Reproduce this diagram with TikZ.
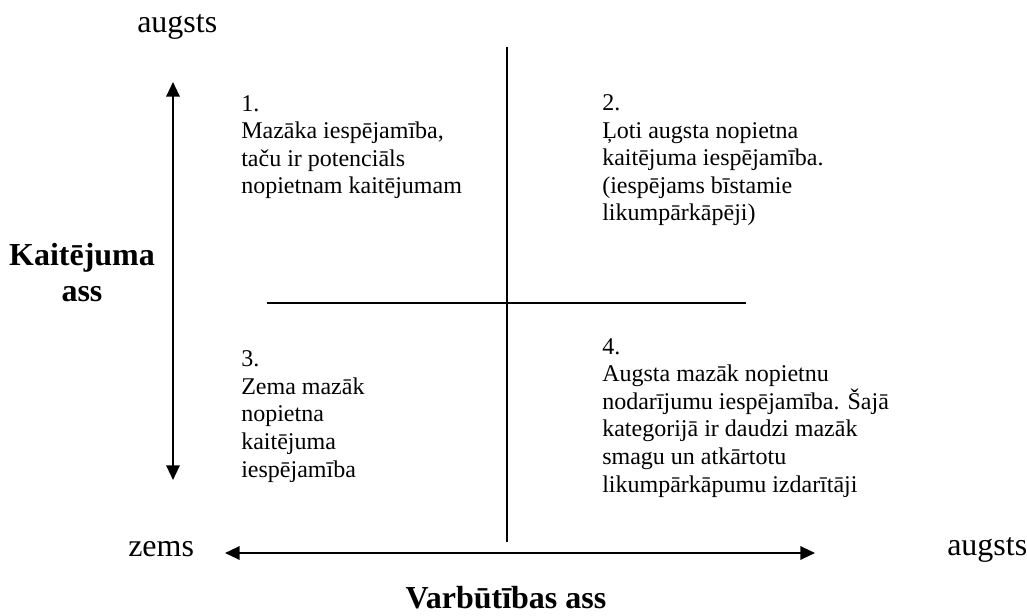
\documentclass[tikz,border=0pt]{standalone}
\usepackage{fontspec}
\setmainfont{Liberation Serif}
\usetikzlibrary{arrows.meta,positioning}
\newcommand{\quadfont}{\fontsize{18}{20.7}\selectfont}

\begin{document}
\begin{tikzpicture}[x=0.75pt,y=-0.75pt,inner sep=0pt,
    axis/.style={line width=1.6pt,{Triangle[length=11pt,width=10pt]}-{Triangle[length=11pt,width=10pt]}},
    split/.style={line width=1pt},
    quad/.style={anchor=base west,align=left,font=\quadfont},
    endlabel/.style={anchor=base west,font=\fontsize{24}{27.6}\selectfont},
    axlabel/.style={anchor=base,align=center,font=\fontsize{24}{27.6}\selectfont\bfseries}]
    \useasboundingbox (0,0) rectangle (1027,616);
    % axes end points
    \coordinate (ytop) at (173,82);
    \coordinate (ybot) at (173,480);
    \coordinate (xleft) at (225,553);
    \coordinate (xright) at (815,553);
    % quadrant lines
    \coordinate (vtop) at (507,47);
    \coordinate (vbot) at (507,542);
    \coordinate (hleft) at (267,303);
    \coordinate (hright) at (746,303);
    \draw[split] (vtop) -- (vbot);
    \draw[split] (hleft) -- (hright);
    \draw[axis] (ybot) -- (ytop);
    \draw[axis] (xleft) -- (xright);
    % axis labels (base = last line)
    \node[endlabel] (yhigh) at (137,33) {augsts};
    \node[endlabel] (xlow) at (128,556) {zems};
    \node[endlabel] (xhigh) at (947,555) {augsts};
    \node[axlabel] (yname) at (82,302) {Kaitējuma\\ass};
    \node[axlabel] (xname) at (506,608) {Varbūtības ass};
    % quadrants (base = last line)
    \node[quad] (q1) at (241,194) {1.\\Mazāka iespējamība,\\taču ir potenciāls\\nopietnam kaitējumam};
    \node[quad] (q2) at (602,221) {2.\\Ļoti augsta nopietna\\kaitējuma iespējamība.\\(iespējams bīstamie\\likumpārkāpēji)};
    \node[quad] (q3) at (241,477) {3.\\Zema mazāk\\nopietna\\kaitējuma\\iespējamība};
    \node[quad] (q4) at (602,492) {4.\\Augsta mazāk nopietnu\\nodarījumu iespējamība. Šajā\\kategorijā ir daudzi mazāk\\smagu un atkārtotu\\likumpārkāpumu izdarītāji};
\end{tikzpicture}
\end{document}
